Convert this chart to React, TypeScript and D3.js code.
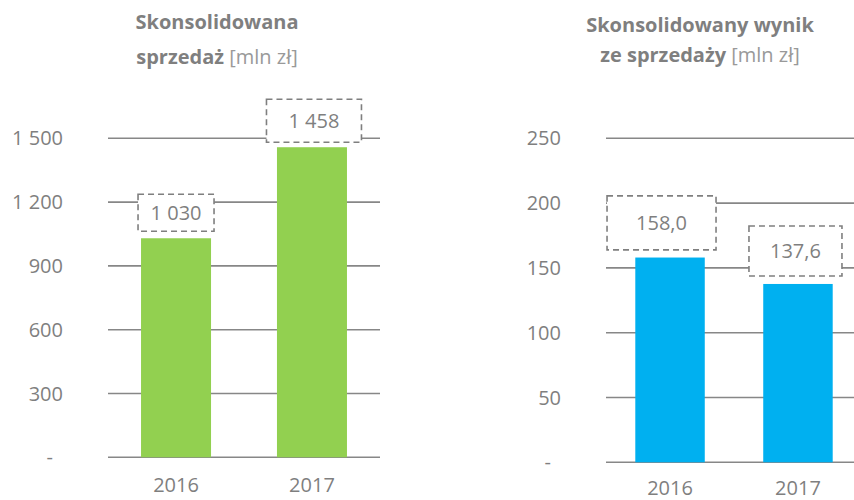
import React from "react";
import * as d3 from "d3";

const categories = ["2016", "2017"];
const salesValues = [1030, 1458];
const salesLabels = ["1 030", "1 458"];
const salesTicks = [0, 300, 600, 900, 1200, 1500];
const profitValues = [158.0, 137.6];
const profitLabels = ["158,0", "137,6"];
const profitTicks = [0, 50, 100, 150, 200, 250];

const FONT = "'Open Sans', sans-serif";
const TEXT = "#7f7f7f";
const GRID = "#878787";

const fmtTick = (v: number) =>
  v === 0 ? "-" : d3.format(",")(v).replace(/,/g, " ");

type Box = { w: number; h: number; gap: number; dx: number };

type PanelProps = {
  values: number[];
  labels: string[];
  ticks: number[];
  domainMax: number;
  x0: number;
  x1: number;
  yTop: number;
  yBottom: number;
  labelX: number;
  color: string;
  pi: number;
  po: number;
  boxes: Box[];
  catY: number;
  title1: string;
  title2Bold: string;
  title2Rest: string;
  titleX: number;
  title1Y: number;
  title2Y: number;
};

function Panel(p: PanelProps) {
  const x = d3
    .scaleBand<string>()
    .domain(categories)
    .range([p.x0, p.x1])
    .paddingInner(p.pi)
    .paddingOuter(p.po);
  const y = d3.scaleLinear().domain([0, p.domainMax]).range([p.yBottom, p.yTop]);
  return (
    <g>
      <text x={p.titleX} y={p.title1Y} textAnchor="middle" fontFamily={FONT} fontSize={20} fontWeight="bold" fill={TEXT}>
        {p.title1}
      </text>
      <text x={p.titleX} y={p.title2Y} textAnchor="middle" fontFamily={FONT} fontSize={20} fill={TEXT}>
        <tspan fontWeight="bold">{p.title2Bold}</tspan>
        <tspan fill="#999999">{p.title2Rest}</tspan>
      </text>
      {p.ticks.map((t) => (
        <g key={t}>
          <line x1={p.x0} x2={p.x1} y1={y(t)} y2={y(t)} stroke={GRID} strokeWidth={1.6} />
          <text
            x={t === 0 ? p.labelX - 10 : p.labelX}
            y={y(t)}
            dy="0.35em"
            textAnchor="end"
            fontFamily={FONT}
            fontSize={20}
            fill={TEXT}
          >
            {fmtTick(t)}
          </text>
        </g>
      ))}
      {categories.map((c, i) => (
        <rect key={c} x={x(c)} y={y(p.values[i])} width={x.bandwidth()} height={y(0) - y(p.values[i])} fill={p.color} />
      ))}
      {categories.map((c) => (
        <text key={c} x={(x(c) as number) + x.bandwidth() / 2} y={p.catY} textAnchor="middle" fontFamily={FONT} fontSize={20} fill={TEXT}>
          {c}
        </text>
      ))}
      {categories.map((c, i) => {
        const b = p.boxes[i];
        const cx = (x(c) as number) + x.bandwidth() / 2 + b.dx;
        const bottom = y(p.values[i]) - b.gap;
        const top = bottom - b.h;
        return (
          <g key={c}>
            <rect x={cx - b.w / 2} y={top} width={b.w} height={b.h} fill="#ffffff" stroke={TEXT} strokeWidth={1.6} strokeDasharray="6 4" />
            <text x={cx} y={(top + bottom) / 2} dy="0.35em" textAnchor="middle" fontFamily={FONT} fontSize={20} fill={TEXT}>
              {p.labels[i]}
            </text>
          </g>
        );
      })}
    </g>
  );
}

export default function App() {
  return (
    <svg width={854} height={500} style={{ position: "absolute", left: 0, top: 0 }}>
      <rect width={854} height={500} fill="#ffffff" />
      <Panel
        values={salesValues}
        labels={salesLabels}
        ticks={salesTicks}
        domainMax={1500}
        x0={108}
        x1={380}
        yTop={138.3}
        yBottom={457.3}
        labelX={63}
        color="#92d050"
        pi={0.485}
        po={0.243}
        boxes={[
          { w: 76, h: 37, gap: 7, dx: 0 },
          { w: 95, h: 43, gap: 5, dx: 2 },
        ]}
        catY={492}
        title1="Skonsolidowana"
        title2Bold="sprzedaż "
        title2Rest="[mln zł]"
        titleX={217}
        title1Y={29}
        title2Y={64}
      />
      <Panel
        values={profitValues}
        labels={profitLabels}
        ticks={profitTicks}
        domainMax={250}
        x0={606}
        x1={862}
        yTop={138.3}
        yBottom={462.3}
        labelX={561}
        color="#00b0f0"
        pi={0.457}
        po={0.229}
        boxes={[
          { w: 109, h: 54, gap: 7.7, dx: -8.5 },
          { w: 93, h: 50, gap: 8, dx: -2.5 },
        ]}
        catY={495}
        title1="Skonsolidowany wynik"
        title2Bold="ze sprzedaży "
        title2Rest="[mln zł]"
        titleX={700}
        title1Y={32}
        title2Y={62}
      />
    </svg>
  );
}
